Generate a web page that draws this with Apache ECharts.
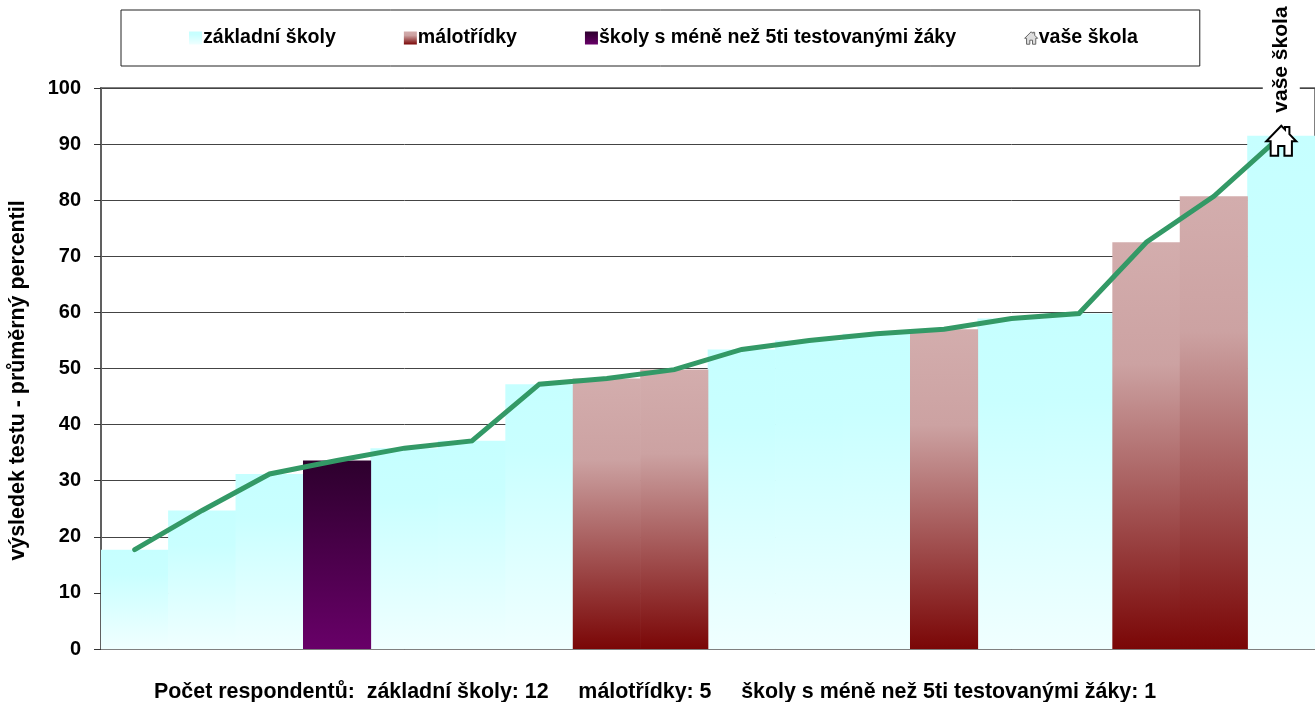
<!DOCTYPE html>
<html>
<head>
<meta charset="utf-8">
<style>
  html, body { margin: 0; padding: 0; background: #fff; }
  #chart { width: 1315px; height: 702px; }
</style>
<script src="https://cdn.jsdelivr.net/npm/echarts@6/dist/echarts.min.js"></script>
</head>
<body>
<div id="chart"></div>
<script>
const categories = ['1','2','3','4','5','6','7','8','9','10','11','12','13','14','15','16','17','18'];
const zakladni = [17.7,24.7,31.2,null,35.8,37.1,47.2,null,null,53.4,55.0,56.2,null,58.9,59.8,null,null,91.5];
const malotridky = [null,null,null,null,null,null,null,48.2,49.8,null,null,null,57.0,null,null,72.5,80.7,null];
const mene5 = [null,null,null,33.6,null,null,null,null,null,null,null,null,null,null,null,null,null,null];
const prumer = [17.7,24.7,31.2,33.6,35.8,37.1,47.2,48.2,49.8,53.4,55.0,56.2,57.0,58.9,59.8,72.5,80.7,91.5];
const vaseSkola = [null,null,null,null,null,null,null,null,null,null,null,null,null,null,null,null,null,91.5];

const FONT = '"Liberation Sans", Arial, sans-serif';
const HOUSE = 'path://M50 4 L62 16 L62 8 L76 8 L76 30 L98 52 L84 52 L84 96 L60 96 L60 66 L40 66 L40 96 L16 96 L16 52 L2 52 Z';

function grad(stops) {
  return new echarts.graphic.LinearGradient(0, 0, 0, 1, stops);
}

const chart = echarts.init(document.getElementById('chart'));
chart.setOption({
  animation: false,
  backgroundColor: '#fff',
  title: {
    text: 'Počet respondentů:  základní školy: 12     málotřídky: 5     školy s méně než 5ti testovanými žáky: 1',
    left: 154,
    top: 682,
    padding: 0,
    textStyle: {fontFamily: FONT, fontSize: 21.4, fontWeight: 'bold', color: '#000'}
  },
  legend: {
    left: 121,
    top: 10,
    orient: 'horizontal',
    padding: [18, 62, 18, 68],
    borderColor: '#222',
    borderWidth: 1,
    itemGap: 68,
    itemWidth: 13,
    itemHeight: 13,
    selectedMode: false,
    textStyle: {fontFamily: FONT, fontSize: 19.6, fontWeight: 'bold', color: '#000', padding: [0, 0, 0, -4]},
    data: [
      {name: 'základní školy', icon: 'rect'},
      {name: 'málotřídky', icon: 'rect'},
      {name: 'školy s méně než 5ti testovanými žáky', icon: 'rect'},
      {name: 'vaše škola', icon: HOUSE, itemStyle: {color: '#ddd', borderColor: '#666', borderWidth: 1}}
    ]
  },
  grid: {
    left: 98, right: 0, top: 88, bottom: 53,
    show: true,
    borderColor: '#808080',
    borderWidth: 2,
    backgroundColor: 'transparent'
  },
  xAxis: {
    type: 'category',
    data: categories,
    axisLabel: {show: false},
    axisTick: {show: false},
    axisLine: {lineStyle: {color: '#808080', width: 1}}
  },
  yAxis: {
    type: 'value',
    min: 0,
    max: 100,
    interval: 10,
    name: 'výsledek testu - průměrný percentil',
    nameLocation: 'middle',
    nameGap: 72,
    nameTextStyle: {fontFamily: FONT, fontSize: 21.4, fontWeight: 'bold', color: '#000', padding: [0, 24, 0, 0]},
    axisLine: {show: true, lineStyle: {color: '#606060', width: 2}},
    axisTick: {show: true, length: 7, lineStyle: {color: '#333', width: 1}},
    axisLabel: {margin: 20, fontFamily: FONT, fontSize: 20, fontWeight: 'bold', color: '#000', padding: [4, 0, 0, 0]},
    splitLine: {show: true, lineStyle: {color: '#444', width: 1}}
  },
  series: [
    {
      name: 'základní školy',
      type: 'bar',
      stack: 'a',
      barWidth: '101%',
      itemStyle: {color: grad([{offset: 0, color: '#c6ffff'}, {offset: 0.25, color: '#c9ffff'}, {offset: 1, color: '#f0ffff'}])},
      data: zakladni
    },
    {
      name: 'málotřídky',
      type: 'bar',
      stack: 'a',
      barWidth: '101%',
      itemStyle: {color: grad([{offset: 0, color: '#d3adad'}, {offset: 0.3, color: '#cca2a2'}, {offset: 1, color: '#7a0606'}])},
      data: malotridky
    },
    {
      name: 'školy s méně než 5ti testovanými žáky',
      type: 'bar',
      stack: 'a',
      barWidth: '101%',
      itemStyle: {color: grad([{offset: 0, color: '#2d002d'}, {offset: 1, color: '#680068'}])},
      data: mene5
    },
    {
      name: 'průměr',
      type: 'line',
      data: prumer,
      symbol: 'none',
      z: 5,
      lineStyle: {color: '#339966', width: 5, cap: 'round', join: 'miter'}
    },
    {
      name: 'vaše škola',
      type: 'line',
      data: vaseSkola,
      symbol: HOUSE,
      symbolSize: 30,
      symbolOffset: [0, 5],
      showSymbol: true,
      clip: false,
      z: 6,
      lineStyle: {width: 0},
      itemStyle: {color: '#fff', borderColor: '#000', borderWidth: 2},
      label: {
        show: true,
        position: 'top',
        distance: 4,
        rotate: 90,
        align: 'left',
        verticalAlign: 'middle',
        formatter: 'vaše škola',
        fontFamily: FONT,
        fontSize: 21,
        fontWeight: 'bold',
        color: '#000',
        backgroundColor: '#fff',
        padding: [8, 0, 8, 8]
      }
    }
  ]
});
</script>
</body>
</html>
